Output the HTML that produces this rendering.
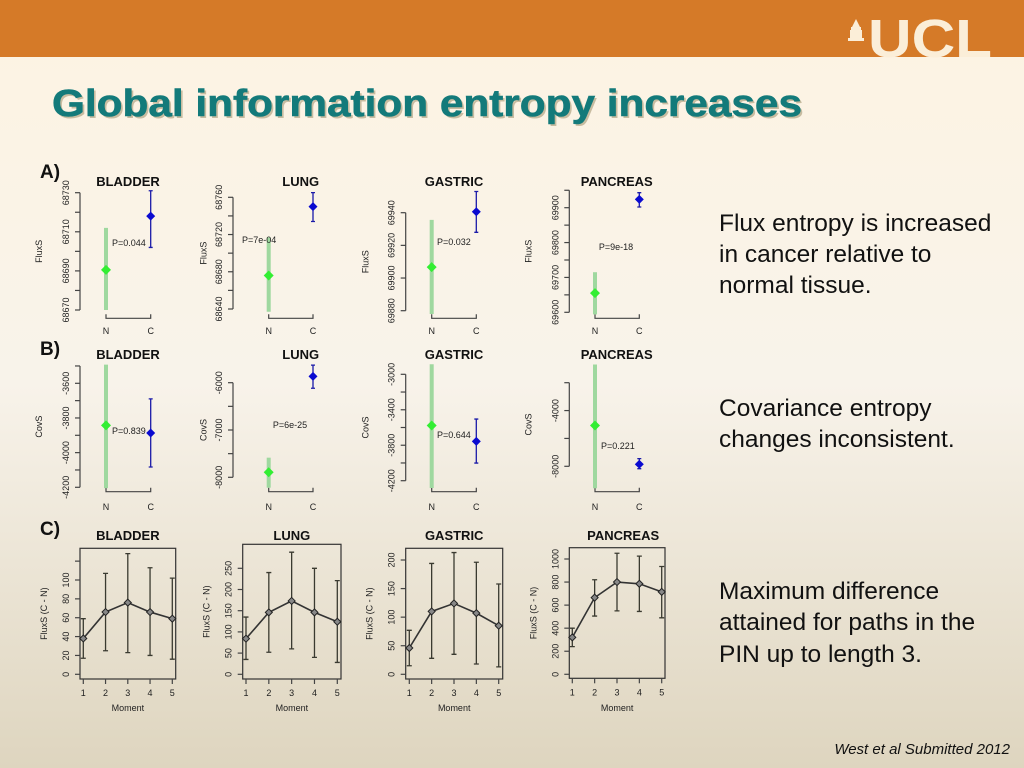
<!DOCTYPE html>
<html><head><meta charset="utf-8"><style>
html,body{margin:0;padding:0;width:1024px;height:768px;overflow:hidden}
svg{display:block;font-family:"Liberation Sans",Arial,sans-serif}
</style></head><body>
<svg id="s" width="1024" height="768" viewBox="0 0 1024 768" xmlns="http://www.w3.org/2000/svg">
<defs>
<linearGradient id="bg" x1="0" y1="0" x2="0" y2="1">
<stop offset="0" stop-color="#fdf3e2"/><stop offset="0.5" stop-color="#f8f3ea"/><stop offset="1" stop-color="#ded5bf"/>
</linearGradient>
</defs>
<rect x="0" y="0" width="1024" height="768" fill="url(#bg)"/>
<rect x="0" y="0" width="1024" height="57" fill="#d57a28"/>
<g fill="#fbeed8">
<rect x="850" y="30" width="12" height="8"/><rect x="848" y="38" width="16" height="3"/><polygon points="856,19 852,27 860,27"/><rect x="851" y="27" width="10" height="3"/>
<text x="868" y="57" font-size="54" font-weight="bold" textLength="124" lengthAdjust="spacingAndGlyphs">UCL</text>
</g>
<text x="52" y="116" font-size="38" font-weight="bold" fill="#8a7a50" opacity="0.45" textLength="750" lengthAdjust="spacingAndGlyphs" transform="translate(2,2)">Global information entropy increases</text>
<text x="52" y="116" font-size="38" font-weight="bold" fill="#137a7a" stroke="#137a7a" stroke-width="0.6" textLength="750" lengthAdjust="spacingAndGlyphs">Global information entropy increases</text>
<g font-size="24.5" fill="#111">
<text x="719" y="231">Flux entropy is increased</text>
<text x="719" y="262">in cancer relative to</text>
<text x="719" y="293">normal tissue.</text>
<text x="719" y="416">Covariance entropy</text>
<text x="719" y="447">changes inconsistent.</text>
<text x="719" y="599">Maximum difference</text>
<text x="719" y="630">attained for paths in the</text>
<text x="719" y="662">PIN up to length 3.</text>
</g>
<text x="1010" y="754" font-size="15" font-style="italic" text-anchor="end" fill="#111">West et al Submitted 2012</text>
<g font-size="19" font-weight="bold" fill="#111">
<text x="40" y="178">A)</text><text x="40" y="355">B)</text><text x="40" y="535">C)</text>
</g>
<g id="charts"></g>
</svg>
<script>
// ---- Row A/B data (mean, low, high) for N and C ----
const names = ["BLADDER","LUNG","GASTRIC","PANCREAS"];
const aN = [[68690.5,68712,68670],[68676,68717,68637],[69906.7,69935.6,69878],[69655,69715,69594]];
const aC = [[68718,68731,68702],[68750,68765,68734],[69940.6,69953,69928],[69924,69943,69902]];
const aP = ["P=0.044","P=7e-04","P=0.032","P=9e-18"];
const aTicks = [[68670,68680,68690,68700,68710,68720,68730],[68640,68660,68680,68700,68720,68740,68760],[69880,69900,69920,69940],[69600,69650,69700,69750,69800,69850,69900,69950]];
const aLabels = [[68670,68690,68710,68730],[68640,68680,68720,68760],[69880,69900,69920,69940],[69600,69700,69800,69900]];
const bN = [[-3843,-3492,-4205],[-7894,-7585,-8220],[-3577,-2887,-4282],[-5071,-698,-9571]];
const bC = [[-3887,-3690,-4083],[-5867,-5628,-6118],[-3757,-3505,-4001],[-7857,-7450,-8171]];
const bP = ["P=0.839","P=6e-25","P=0.644","P=0.221"];
const bTicks = [[-4200,-4100,-4000,-3900,-3800,-3700,-3600,-3500],[-8000,-7500,-7000,-6500,-6000],[-4200,-4000,-3800,-3600,-3400,-3200,-3000],[-8000,-6000,-4000,-2000]];
const bLabels = [[-4200,-4000,-3800,-3600],[-8000,-7000,-6000],[-4200,-3800,-3400,-3000],[-8000,-4000]];
// ---- Row C data ----
const moments = [1,2,3,4,5];
const cMean = [[38,66,76,66,59],[84,146,173,146,124],[46,110,124,107,85],[320,665,800,785,715]];
const cLow = [[17,25,23,20,16],[35,52,60,40,28],[15,28,35,18,13],[240,505,550,545,490]];
const cHigh = [[59,107,128,113,102],[135,240,288,250,221],[77,194,213,196,158],[400,820,1050,1025,935]];
const cTicks = [[0,20,40,60,80,100,120],[0,50,100,150,200,250],[0,50,100,150,200],[0,200,400,600,800,1000]];

// layout (not data)
const axX=[80,233,405.7,569.3], nX=[106,268.7,431.7,595], cX=[150.7,313,476.3,639.3], titleX=[128,300.7,454,616.7], yTitleX=[42,206.7,368.3,531.7];
const aRef=[[68670,310,68730,192.7],[68640,309,68760,197.3],[69880,310.7,69940,212.7],[69600,312.3,69900,207.7]];
const bRef=[[-4200,487.3,-3600,383.3],[-8000,477.3,-6000,382.7],[-4200,480.7,-3000,374.3],[-8000,466.3,-2000,382.7]];
const aPpos=[[112,246,'start'],[242,243,'start'],[437,245,'start'],[616,250,'middle']];
const bPpos=[[112,434,'start'],[290,428,'middle'],[437,438,'start'],[601,449,'start']];
const cBox=[[80,175.7,548.3,679],[242.7,341,544.3,679],[405.7,502.7,548.3,679],[569.3,665,547.7,678.3]];
const cRef=[[0,674.3,100,580],[0,674.3,250,568.3],[0,674.3,200,560],[0,674.3,1000,559]];
const cXr=[[83.3,172.3],[246,337.3],[409.3,498.7],[572.3,661.7]];

const NS="http://www.w3.org/2000/svg", root=document.getElementById('charts');
function mk(tag,attrs,parent,txt){const e=document.createElementNS(NS,tag);for(const k in attrs)e.setAttribute(k,attrs[k]);if(txt!==undefined)e.textContent=txt;parent.appendChild(e);return e;}
function scale(r){return v=>r[1]+(v-r[0])*(r[3]-r[1])/(r[2]-r[0]);}
function diamond(g,x,y,r,fill){return mk('polygon',{points:`${x},${y-r} ${x+r},${y} ${x},${y+r} ${x-r},${y}`,fill:fill},g);}

function ncPanel(i,row,N,C,P,ticks,labels,ref,ppos,ytitle,titleY,bracketY,ncY){
  const g=mk('g',{},root);
  
  
  const y=scale(ref);
  const t=mk('text',{x:titleX[i],y:titleY,'font-size':13,'font-weight':'bold','text-anchor':'middle',fill:'#111'},g,names[i]);
  
  
  const top=y(ticks[ticks.length-1]), bot=y(ticks[0]);
  const ax=mk('path',{d:`M${axX[i]},${top}V${bot}`,stroke:'#444','stroke-width':1.2,fill:'none'},g);
  
  
  ticks.forEach(v=>{mk('line',{x1:axX[i]-5,x2:axX[i],y1:y(v),y2:y(v),stroke:'#444','stroke-width':1.2},g);});
  labels.forEach(v=>{const tx=axX[i]-11;const l=mk('text',{x:tx,y:y(v),'font-size':9,'text-anchor':'middle',fill:'#222',transform:`rotate(-90 ${tx} ${y(v)})`},g,String(v));
    
    });
  const mid=(top+bot)/2, yt=mk('text',{x:yTitleX[i],y:mid,'font-size':9,'text-anchor':'middle',fill:'#222',transform:`rotate(-90 ${yTitleX[i]} ${mid})`},g,ytitle);
  
  
  mk('path',{d:`M${nX[i]},${bracketY-4}V${bracketY}H${cX[i]}V${bracketY-4}`,stroke:'#444','stroke-width':1.2,fill:'none'},g);
  mk('text',{x:nX[i],y:ncY,'font-size':9,'text-anchor':'middle',fill:'#222'},g,'N');
  mk('text',{x:cX[i],y:ncY,'font-size':9,'text-anchor':'middle',fill:'#222'},g,'C');
  const nb=mk('line',{x1:nX[i],x2:nX[i],y1:y(N[1]),y2:y(N[2]),stroke:'#9fd89f','stroke-width':4},g);
  
  
  const np=diamond(g,nX[i],y(N[0]),5,'#33ee33');
  
  
  const cb=mk('path',{d:`M${cX[i]-2},${y(C[1])}H${cX[i]+2}M${cX[i]},${y(C[1])}V${y(C[2])}M${cX[i]-2},${y(C[2])}H${cX[i]+2}`,stroke:'#1a1aa8','stroke-width':1.3,fill:'none'},g);
  
  
  const cp=diamond(g,cX[i],y(C[0]),4.5,'#0a0ad0');
  
  
  const pt=mk('text',{x:ppos[0],y:ppos[1],'font-size':9,'text-anchor':ppos[2],fill:'#222'},g,P);
  
  
}
for(let i=0;i<4;i++){
  ncPanel(i,'a',aN[i],aC[i],aP[i],aTicks[i],aLabels[i],aRef[i],aPpos[i],'FluxS',186,318.3,334);
  ncPanel(i,'b',bN[i],bC[i],bP[i],bTicks[i],bLabels[i],bRef[i],bPpos[i],'CovS',359,491.7,510);
}
for(let i=0;i<4;i++){
  const g=mk('g',{},root);
  
  
  const b=cBox[i], y=scale(cRef[i]), x=scale([1,cXr[i][0],5,cXr[i][1]]);
  const t=mk('text',{x:(b[0]+b[1])/2+(i==3?6:0),y:540,'font-size':13,'font-weight':'bold','text-anchor':'middle',fill:'#111'},g,names[i]);
  
  
  const box=mk('rect',{x:b[0],y:b[2],width:b[1]-b[0],height:b[3]-b[2],fill:'none',stroke:'#333','stroke-width':1.2},g);
  
  
  cTicks[i].forEach(v=>{mk('line',{x1:b[0]-5,x2:b[0],y1:y(v),y2:y(v),stroke:'#444','stroke-width':1.2},g);
    if(!(i==0&&v==120)){const tx=b[0]-14;const l=mk('text',{x:tx,y:y(v)+3,'font-size':9,'text-anchor':'middle',fill:'#222',transform:`rotate(-90 ${tx} ${y(v)})`},g,String(v));
    
    }});
  moments.forEach(m=>{mk('line',{x1:x(m),x2:x(m),y1:b[3],y2:b[3]+5,stroke:'#444','stroke-width':1.2},g);
    const l=mk('text',{x:x(m),y:b[3]+17,'font-size':9,'text-anchor':'middle',fill:'#222'},g,String(m));
    
    });
  const xt=mk('text',{x:(b[0]+b[1])/2,y:711,'font-size':9,'text-anchor':'middle',fill:'#222'},g,'Moment');
  
  
  const cy=(b[2]+b[3])/2, yx=b[0]-33;
  const yt=mk('text',{x:yx,y:cy,'font-size':9,'text-anchor':'middle',fill:'#222',transform:`rotate(-90 ${yx} ${cy})`},g,'FluxS (C - N)');
  
  
  moments.forEach((m,j)=>{const eb=mk('path',{d:`M${x(m)-2.5},${y(cHigh[i][j])}H${x(m)+2.5}M${x(m)},${y(cHigh[i][j])}V${y(cLow[i][j])}M${x(m)-2.5},${y(cLow[i][j])}H${x(m)+2.5}`,stroke:'#3a3a30','stroke-width':1.3,fill:'none'},g);
    
    });
  const ln=mk('polyline',{points:moments.map((m,j)=>`${x(m)},${y(cMean[i][j])}`).join(' '),fill:'none',stroke:'#333','stroke-width':1.6},g);
  
  
  moments.forEach((m,j)=>{const p=diamond(g,x(m),y(cMean[i][j]),3.5,'#888');
    p.setAttribute('stroke','#222');
    
    });
}
</script>
</body></html>
